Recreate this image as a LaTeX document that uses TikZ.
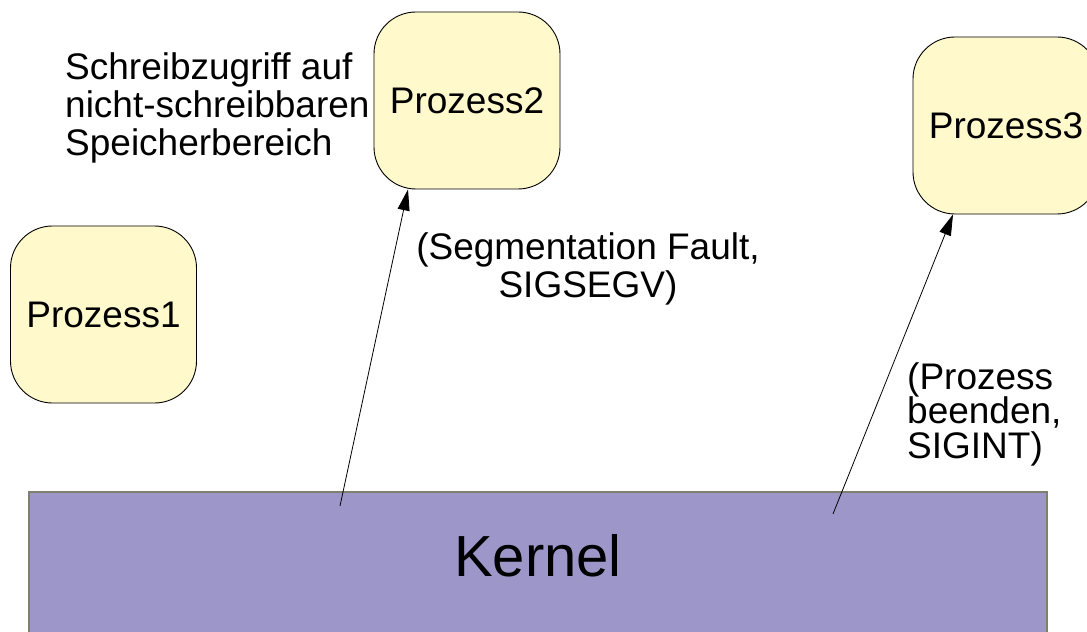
\documentclass[tikz,border=0pt]{standalone}
\usepackage{fontspec}
\setmainfont{Liberation Sans}
\usepackage{tikz}
\usetikzlibrary{arrows.meta, positioning}
\usepackage{xcolor}
\definecolor{procfill}{RGB}{255,249,204}
\definecolor{kernfill}{RGB}{157,150,200}
\definecolor{kerndraw}{RGB}{128,128,112}

\begin{document}
\begin{tikzpicture}[
        x=1bp, y=-1bp,
        proc/.style={draw, rectangle, rounded corners=42bp, fill=procfill, line width=0.9bp,
          minimum width=186bp, minimum height=177bp, font=\fontsize{37bp}{38bp}\selectfont},
        lbl/.style={inner sep=0pt, font=\fontsize{37bp}{38bp}\selectfont},
        sig/.style={-{Triangle[length=21bp, width=12bp]}, line width=0.8bp},
        >=Stealth
      ]
      \useasboundingbox (0,0) rectangle (1087,632);
      \clip (0,0) rectangle (1087,632);

      % Kernel
      \draw[fill=kernfill, draw=kerndraw, line width=1.5bp] (29,492) rectangle (1047,660);
      \node [anchor=base, inner sep=0pt, font=\fontsize{58bp}{60bp}\selectfont] (K) at (538,576) {Kernel};

      % Processes
      \node [proc] (P1) at (103.5,314.5) {Prozess1};
      \node [proc] (P2) at (467,100.5) {Prozess2};
      \node [proc] (P3) at (1006,125.5) {Prozess3};

      % Labels
      \node [lbl, anchor=north west, align=left] (note) at (65,52) {Schreibzugriff auf\\nicht-schreibbaren\\Speicherbereich};
      \node [lbl, anchor=north, align=center] (seg) at (588,232) {(Segmentation Fault,\\SIGSEGV)};
      \node [lbl, anchor=north west, align=left, font=\fontsize{37bp}{34.5bp}\selectfont] (int) at (907,362) {(Prozess\\beenden,\\SIGINT)};

      % Signals
      \coordinate (k1) at (340,506);
      \coordinate (k2) at (833,514);
      \draw[sig] (k1) -- ([xshift=-59bp]P2.south);
      \draw[sig] (k2) -- ([xshift=-53bp]P3.south);

    \end{tikzpicture}
\end{document}
